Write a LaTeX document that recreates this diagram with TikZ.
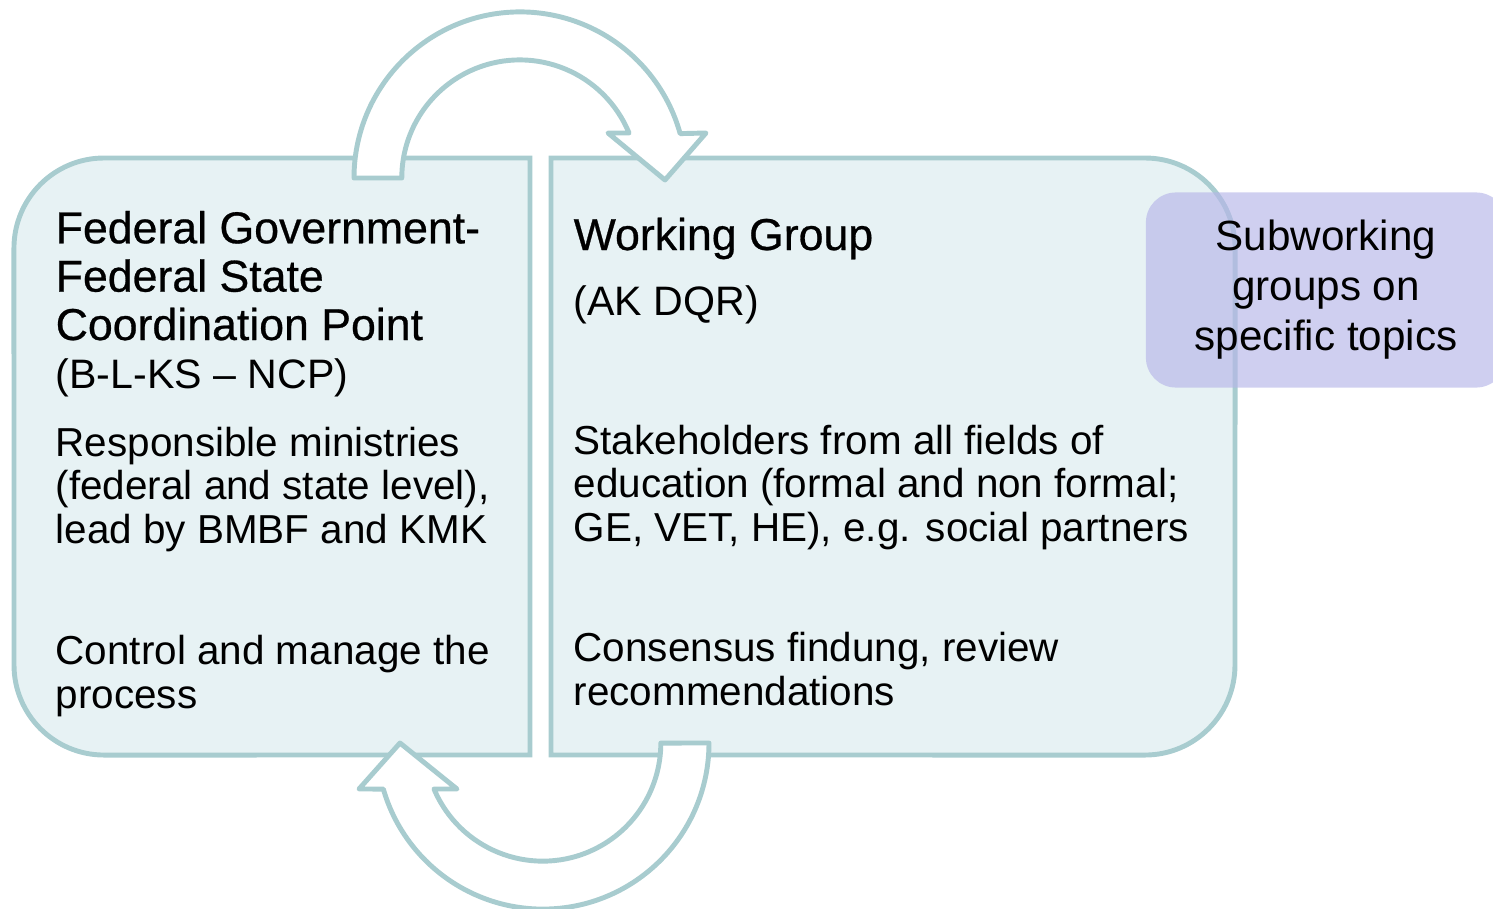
\documentclass[tikz,border=0pt]{standalone}
\usepackage{fontspec}
\setmainfont{Liberation Sans}
\newfontfamily\headfont[FakeBold=0.6]{Liberation Sans}
\definecolor{boxline}{RGB}{168,204,207}
\definecolor{boxfill}{RGB}{231,242,244}
\definecolor{subfill}{RGB}{182,182,232}

\tikzset{
  panel/.style={draw=boxline, fill=boxfill, line width=1.4pt},
  looparrow/.style={draw=boxline, fill=white, line width=1.4pt, line join=round},
  title/.style={anchor=base west, inner sep=0pt, align=left, font=\headfont\fontsize{12.7}{13.75}\selectfont},
  body/.style={anchor=base west, inner sep=0pt, align=left, font=\fontsize{11.5}{12.3}\selectfont},
  acronym/.style={body, font=\fontsize{11.7}{13}\selectfont},
  subbox/.style={fill=subfill, fill opacity=0.65, text opacity=1, rounded corners=0.3cm,
    minimum width=3.6cm, minimum height=1.95cm, align=center, font=\fontsize{12}{14.2}\selectfont},
}

\begin{document}
\begin{tikzpicture}[x=0.01cm, y=0.01cm]
    \useasboundingbox (0,0) rectangle (1493,-909);

    % the two panels
    \draw[panel] (530,-158) -- (104,-158) arc[start angle=90, end angle=180, radius=0.9cm]
        -- (14,-665) arc[start angle=180, end angle=270, radius=0.9cm] -- (530,-755) -- cycle;
    \draw[panel] (551,-158) -- (1145,-158) arc[start angle=90, end angle=0, radius=0.9cm]
        -- (1235,-665) arc[start angle=0, end angle=-90, radius=0.9cm] -- (551,-755) -- cycle;

    % circular arrows (top: left to right, bottom: right to left)
    \draw[looparrow] (354,-178) arc[start angle=180, end angle=15.5, radius=1.66cm]
        -- (706,-133) -- (665,-180) -- (608,-133) -- (629,-133)
        arc[start angle=22.4, end angle=180, radius=1.18cm] -- cycle;
    \draw[looparrow] (709,-743) arc[start angle=0, end angle=-163.9, radius=1.66cm]
        -- (359,-789) -- (400,-743) -- (457,-789) -- (434,-789)
        arc[start angle=-157.1, end angle=0, radius=1.18cm] -- cycle;

    \node[subbox] (subwg) at (1326,-290) {Subworking\\groups on\\specific topics};

    % left panel (multi-line nodes sit on their last baseline)
    \node[title] (blks) at (55,-340) {Federal Government-\\Federal State\\Coordination Point};
    \node[acronym] (ncp) at (55,-388) {(B-L-KS – NCP)};
    \node[body] (ministries) at (55,-543) {Responsible ministries\\(federal and state level),\\lead by BMBF and KMK};
    \node[body] (control) at (55,-708) {Control and manage the\\process};

    % right panel
    \node[title] (akwg) at (573,-250) {Working Group};
    \node[acronym] (akdqr) at (573,-315) {(AK DQR)};
    \node[body] (stakeholders) at (573,-541) {Stakeholders from all fields of\\education (formal and non formal;\\GE, VET, HE), e.g. social partners};
    \node[body] (consensus) at (573,-705) {Consensus findung, review\\recommendations};
\end{tikzpicture}
\end{document}
